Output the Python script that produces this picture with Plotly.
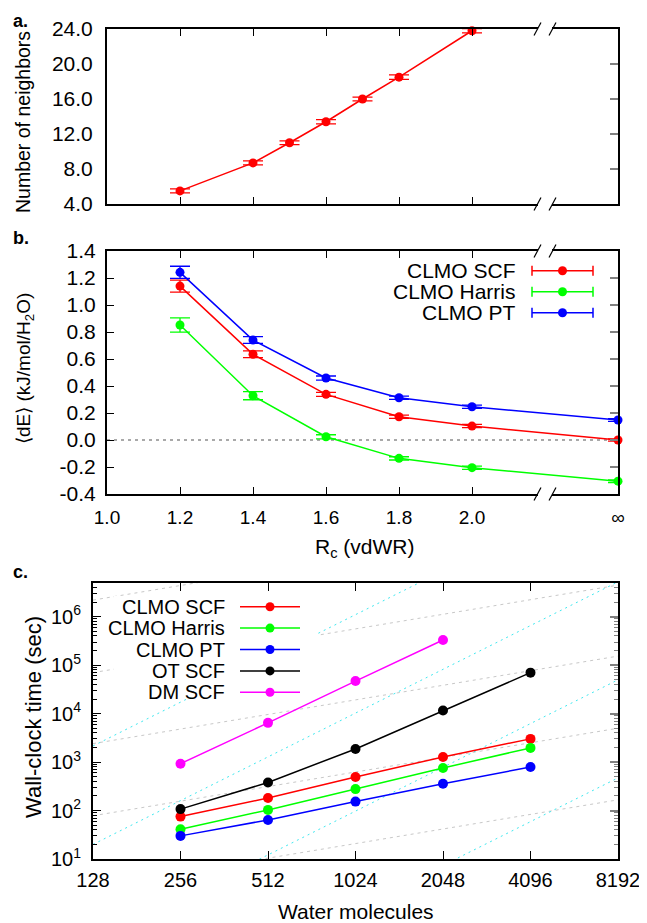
import numpy as np
import plotly.graph_objects as go

W, H = 647, 923
PAGE_PAD = 8  # body margin of the html page

# panel a: neighbours vs cutoff radius
rc_a = [1.2, 1.4, 1.5, 1.6, 1.7, 1.8, 2.0]
neighbors = [5.5, 8.7, 11.0, 13.4, 16.0, 18.5, 23.8]
neighbors_err = [0.22, 0.22, 0.22, 0.25, 0.22, 0.25, 0.25]

# panel b: energy error vs cutoff radius (last point is R_c = infinity)
RC_INF = 2.4
RC_BREAK = 2.2
rc_b = [1.2, 1.4, 1.6, 1.8, 2.0, RC_INF]
rc_b_ticks = [1.0, 1.2, 1.4, 1.6, 1.8, 2.0, RC_INF]
rc_b_labels = ["1.0", "1.2", "1.4", "1.6", "1.8", "2.0", "∞"]
de_scf = [1.14, 0.635, 0.338, 0.172, 0.103, 0.0]
de_harris = [0.852, 0.328, 0.024, -0.136, -0.205, -0.305]
de_pt = [1.242, 0.74, 0.459, 0.313, 0.246, 0.148]
err_scf = [0.045, 0.025, 0.015, 0.012, 0.012, 0.008]
err_harris = [0.053, 0.03, 0.015, 0.012, 0.012, 0.01]
err_pt = [0.045, 0.025, 0.015, 0.012, 0.012, 0.01]

# panel c: wall-clock timings
n_water = [256, 512, 1024, 2048, 4096]
n_ticks = [128, 256, 512, 1024, 2048, 4096, 8192]
t_clmo_scf = [75, 181, 491, 1277, 3010]
t_clmo_harris = [41, 103, 277, 755, 1960]
t_clmo_pt = [30, 64, 153, 357, 791]
t_ot_scf = [107, 380, 1866, 11600, 70000]
t_dm_scf = [927, 6440, 46900, 331000]

# scaling guides: value at N=128 for O(N) and O(N^3) lines
linear_guide_128 = [2.6, 78, 2400, 70000, 2.2e6]
cubic_guide_128 = [0.0018, 0.19, 20, 2150]

FONT = "Liberation Sans, Arial, sans-serif"
FW, FH = W - PAGE_PAD, H - PAGE_PAD


def px(x):
    return (x - PAGE_PAD) / FW


def py(y):
    return 1 - (y - PAGE_PAD) / FH


fig = go.Figure()

# ---- panel a
fig.add_trace(go.Scatter(
    x=rc_a, y=neighbors, mode="lines+markers", xaxis="x", yaxis="y",
    line=dict(color="red", width=1.5), marker=dict(color="red", size=9),
    error_y=dict(type="data", array=neighbors_err, color="red", thickness=1.3, width=10),
    cliponaxis=False, showlegend=False))

# ---- panel b
for vals, errs, col in [(de_scf, err_scf, "#ff0000"), (de_harris, err_harris, "#00ff00"),
                        (de_pt, err_pt, "#0000ff")]:
    fig.add_trace(go.Scatter(
        x=rc_b, y=vals, mode="lines+markers", xaxis="x2", yaxis="y2",
        line=dict(color=col, width=1.5), marker=dict(color=col, size=9),
        error_y=dict(type="data", array=errs, color=col, thickness=1.3, width=10),
        cliponaxis=False, showlegend=False))

# ---- panel c guides
n_span = np.array([n_ticks[0], n_ticks[-1]], dtype=float)
for c in linear_guide_128:
    fig.add_trace(go.Scatter(
        x=n_span, y=c * (n_span / 128.0), mode="lines", xaxis="x3", yaxis="y3",
        line=dict(color="#c8c8c8", width=1, dash="3px,4px"), hoverinfo="skip", showlegend=False))
for c in cubic_guide_128:
    fig.add_trace(go.Scatter(
        x=n_span, y=c * (n_span / 128.0) ** 3, mode="lines", xaxis="x3", yaxis="y3",
        line=dict(color="#40e8f0", width=1, dash="2px,4px"), hoverinfo="skip", showlegend=False))

series_c = [
    ("CLMO SCF", t_clmo_scf, "#ff0000"),
    ("CLMO Harris", t_clmo_harris, "#00ff00"),
    ("CLMO PT", t_clmo_pt, "#0000ff"),
    ("OT SCF", t_ot_scf, "#000000"),
    ("DM SCF", t_dm_scf, "#ff00ff"),
]
for name, vals, col in series_c:
    fig.add_trace(go.Scatter(
        x=n_water[:len(vals)], y=vals, mode="lines+markers", xaxis="x3", yaxis="y3",
        line=dict(color=col, width=1.5), marker=dict(color=col, size=10),
        showlegend=False, name=name))

# empty traces so the grey right-hand tick axes get drawn
for ya, xa in [("y4", "x"), ("y5", "x2"), ("y6", "x3")]:
    fig.add_trace(go.Scatter(x=[None], y=[None], xaxis=xa, yaxis=ya, showlegend=False))

xtickfont = dict(family=FONT, size=19, color="black")
ytickfont = dict(family=FONT, size=21, color="black")
frame = dict(showline=True, linecolor="black", linewidth=2, showgrid=False, zeroline=False,
             automargin=False)
grey_side = dict(side="right", ticks="inside", tickcolor="#808080", tickwidth=1.5,
                 showticklabels=False, showline=False, showgrid=False, zeroline=False,
                 automargin=False)

dom_x_ab = [px(107), px(618)]
dom_y_a = [py(204), py(29)]
dom_y_b = [py(494), py(251)]
dom_x_c = [px(93), px(618)]
dom_y_c = [py(859), py(583)]
minor_c = [m * 10 ** k for k in range(1, 7) for m in range(2, 10)]

fig.update_layout(
    width=FW, height=FH, margin=dict(l=0, r=0, t=0, b=0, autoexpand=False),
    paper_bgcolor="white", plot_bgcolor="white",
    font=dict(family=FONT, color="black"),
    xaxis=dict(frame, domain=dom_x_ab, anchor="y", range=[1.0, RC_INF],
               tickvals=rc_b_ticks[1:-1], showticklabels=False,
               ticks="inside", ticklen=7, tickcolor="black", tickwidth=1, mirror="ticks"),
    yaxis=dict(frame, domain=dom_y_a, anchor="x", range=[4, 24],
               tickvals=[4, 8, 12, 16, 20, 24],
               ticktext=["4.0", "8.0", "12.0", "16.0", "20.0", "24.0"],
               ticks="", mirror=True, tickfont=ytickfont, ticklabelstandoff=8),
    yaxis4=dict(grey_side, overlaying="y", anchor="x", range=[4, 24],
                tickvals=[8, 12, 16, 20], ticklen=8),
    xaxis2=dict(frame, domain=dom_x_ab, anchor="y2", range=[1.0, RC_INF],
                tickvals=rc_b_ticks, ticktext=rc_b_labels,
                ticks="inside", ticklen=7, tickcolor="black", tickwidth=1, mirror="ticks",
                tickfont=xtickfont, ticklabelstandoff=5),
    yaxis2=dict(frame, domain=dom_y_b, anchor="x2", range=[-0.4, 1.4],
                tickvals=[-0.4, -0.2, 0.0, 0.2, 0.4, 0.6, 0.8, 1.0, 1.2, 1.4],
                ticktext=["-0.4", "-0.2", "0.0", "0.2", "0.4", "0.6", "0.8", "1.0", "1.2", "1.4"],
                ticks="inside", ticklen=7, tickcolor="black", tickwidth=1, mirror=True,
                tickfont=ytickfont, ticklabelstandoff=5),
    yaxis5=dict(grey_side, overlaying="y2", anchor="x2", range=[-0.4, 1.4],
                tickvals=[-0.2, 0.0, 0.2, 0.4, 0.6, 0.8, 1.0, 1.2], ticklen=8),
    xaxis3=dict(frame, type="log", domain=dom_x_c, anchor="y3",
                range=[np.log10(128), np.log10(8192)],
                tickvals=n_ticks, ticktext=[str(n) for n in n_ticks],
                ticks="inside", ticklen=8, tickcolor="black", tickwidth=1, mirror="ticks",
                tickfont=dict(family=FONT, size=20, color="black"), ticklabelstandoff=2),
    yaxis3=dict(frame, type="log", domain=dom_y_c, anchor="x3", range=[1, 6.695],
                tickvals=[10 ** k for k in range(1, 7)],
                ticktext=["10<sup>%d</sup>" % k for k in range(1, 7)],
                ticks="inside", ticklen=8, tickcolor="black", tickwidth=1, mirror=True,
                tickfont=dict(family=FONT, size=20, color="black"), ticklabelstandoff=6,
                minor=dict(tickvals=minor_c, ticks="inside", ticklen=4, tickcolor="black",
                           tickwidth=1)),
    yaxis6=dict(grey_side, overlaying="y3", anchor="x3", type="log", range=[1, 6.695],
                tickvals=[10 ** k for k in range(2, 7)], ticklen=8,
                minor=dict(tickvals=minor_c, ticks="inside", ticklen=4, tickcolor="#808080",
                           tickwidth=1)),
)

shapes = []
# dotted zero line in panel b
shapes.append(dict(type="line", xref="x2", yref="y2", x0=1.0, x1=RC_INF, y0=0, y1=0,
                   line=dict(color="#555555", width=1.2, dash="3px,4px"), layer="below"))

# axis breaks
for xr, yedge in [("x", dom_y_a[0]), ("x", dom_y_a[1]), ("x2", dom_y_b[0]), ("x2", dom_y_b[1])]:
    shapes.append(dict(type="rect", xref=xr, yref="paper", xsizemode="pixel", ysizemode="pixel",
                       xanchor=RC_BREAK, yanchor=yedge, x0=-7, x1=7, y0=-3, y1=3,
                       fillcolor="white", line=dict(width=0), layer="above"))
    for off in (-7.5, 7.5):
        shapes.append(dict(type="line", xref=xr, yref="paper", xsizemode="pixel",
                           ysizemode="pixel", xanchor=RC_BREAK, yanchor=yedge,
                           x0=off - 3.5, x1=off + 3.5, y0=-6.5, y1=6.5,
                           line=dict(color="black", width=1.2), layer="above"))

annotations = []


def text_at(x, y, text, size, angle=0, xanchor="center", bold=False):
    annotations.append(dict(xref="paper", yref="paper", x=px(x), y=py(y),
                            text="<b>%s</b>" % text if bold else text, textangle=angle,
                            xanchor=xanchor, yanchor="middle", showarrow=False,
                            font=dict(family=FONT, size=size, color="black")))


def legend_row(x_text, x0, x1, yrow, label, col, caps, size):
    text_at(x_text, yrow, label, size, xanchor="right")
    shapes.append(dict(type="line", xref="paper", yref="paper", x0=px(x0), x1=px(x1),
                       y0=py(yrow), y1=py(yrow), line=dict(color=col, width=1.5), layer="above"))
    if caps:
        for xc in (x0, x1):
            shapes.append(dict(type="line", xref="paper", yref="paper", x0=px(xc), x1=px(xc),
                               y0=py(yrow - 5), y1=py(yrow + 5), line=dict(color=col, width=1.5),
                               layer="above"))
    xm = (x0 + x1) / 2
    shapes.append(dict(type="circle", xref="paper", yref="paper", xsizemode="pixel",
                       ysizemode="pixel", xanchor=px(xm), yanchor=py(yrow),
                       x0=-4.5, x1=4.5, y0=-4.5, y1=4.5, fillcolor=col,
                       line=dict(width=0), layer="above"))


# panel b legend
for i, (label, col) in enumerate([("CLMO SCF", "#ff0000"), ("CLMO Harris", "#00ff00"),
                                  ("CLMO PT", "#0000ff")]):
    legend_row(518, 532, 593, 270.7 + 21 * i, label, col, True, 21)

# panel c legend with opaque box
shapes.append(dict(type="rect", xref="paper", yref="paper", x0=px(114), x1=px(318),
                   y0=py(697), y1=py(596), fillcolor="white", line=dict(width=0), layer="above"))
for i, (name, vals, col) in enumerate(series_c):
    legend_row(227, 240, 300, 606.7 + 21.4 * i, name, col, False, 20)

# axis titles and panel letters
text_at(23, 122, "Number of neighbors", 19.5, angle=-90)
text_at(25, 369, "⟨dE⟩ (kJ/mol/H<sub>2</sub>O)", 19, angle=-90)
text_at(33, 717, "Wall-clock time (sec)", 22, angle=-90)
text_at(365, 548, "R<sub>c</sub> (vdWR)", 21)
text_at(356, 911, "Water molecules", 21)
for letter, yl in [("a.", 21), ("b.", 238), ("c.", 572)]:
    text_at(11, yl, letter, 18, xanchor="left", bold=True)

fig.update_layout(shapes=shapes, annotations=annotations)

fig.write_html("out.html")
